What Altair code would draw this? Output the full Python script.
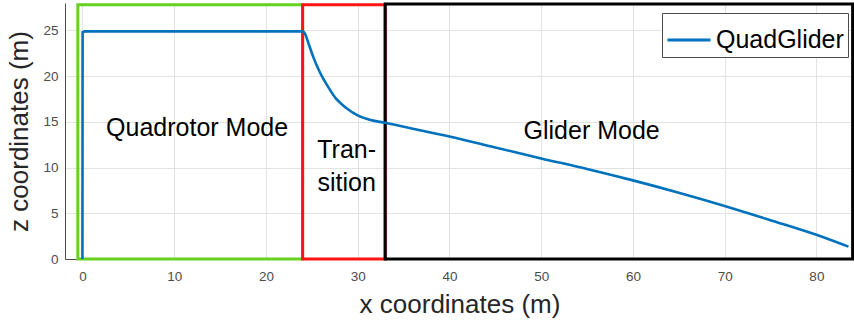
import altair as alt
import pandas as pd

# trajectory (x, z)
traj_x = [0.0, 0.02, 0.3, 5, 10, 15, 20, 24.0, 24.2, 24.7, 25.2, 25.7, 26.2, 26.8, 27.6, 28.3, 28.9, 30.0, 31.4, 33.0,
          36, 40, 45, 50, 55, 60, 65, 70, 75, 80, 83.5]
traj_z = [0.0, 24.8, 24.9, 24.9, 24.9, 24.9, 24.9, 24.9, 24.75, 23.4, 22.0, 20.8, 19.8, 18.8, 17.6, 16.9, 16.4, 15.7, 15.2, 14.9,
          14.25, 13.4, 12.2, 11.0, 9.85, 8.6, 7.25, 5.8, 4.25, 2.65, 1.35]

# mode boxes
box_name = ["quad", "trans", "glide"]
box_x1 = [-0.5, 24.0, 33.0]
box_x2 = [24.0, 33.0, 83.95]
box_y1 = [0.0, 0.0, 0.0]
box_y2 = [27.8, 27.8, 27.9]
box_col = ["#66d11f", "#ff1414", "#000000"]

# region labels
lab_text = ["Quadrotor Mode", "Tran-", "sition", "Glider Mode"]
lab_x = [12.5, 28.8, 28.8, 55.5]
lab_z = [14.3, 11.9, 8.3, 14.0]

FONT = "Liberation Sans"

line_df = pd.DataFrame({"x": traj_x, "z": traj_z, "series": "QuadGlider", "order": range(len(traj_x))})
box_df = pd.DataFrame({"name": box_name, "x": box_x1, "x2": box_x2, "y": box_y1, "y2": box_y2})
lab_df = pd.DataFrame({"t": lab_text, "x": lab_x, "z": lab_z})

xs = alt.Scale(domain=[-1.9, 84.1], nice=False, zero=False)
ys = alt.Scale(domain=[0, 28], nice=False)

xaxis = alt.Axis(values=[0, 10, 20, 30, 40, 50, 60, 70, 80], title="x coordinates (m)",
                 grid=True, ticks=False, labelPadding=10, titlePadding=9)
yaxis = alt.Axis(values=[0, 5, 10, 15, 20, 25], title="z coordinates (m)",
                 grid=True, ticks=False, labelPadding=7, titlePadding=10)

grid_layer = alt.Chart(line_df).mark_line(opacity=0).encode(
    x=alt.X("x:Q", scale=xs, axis=xaxis),
    y=alt.Y("z:Q", scale=ys, axis=yaxis),
)

line = alt.Chart(line_df).mark_line(strokeWidth=2.6, interpolate="monotone").encode(
    x=alt.X("x:Q", scale=xs),
    y=alt.Y("z:Q", scale=ys),
    order="order:Q",
    color=alt.Color("series:N", scale=alt.Scale(domain=["QuadGlider"], range=["#0072BD"]),
                    legend=alt.Legend(title=None, orient="none", legendX=597, legendY=10,
                                      symbolType="stroke", symbolSize=1849, symbolStrokeWidth=3,
                                      labelFontSize=25, labelFont=FONT, labelColor="#000000",
                                      labelOffset=4, padding=4, fillColor="#ffffff",
                                      strokeColor="#4d4d4d", labelLimit=300)),
)

boxes = alt.Chart(box_df).mark_rect(filled=False, strokeWidth=3).encode(
    x=alt.X("x:Q", scale=xs),
    x2="x2:Q",
    y=alt.Y("y:Q", scale=ys),
    y2="y2:Q",
    stroke=alt.Stroke("name:N", scale=alt.Scale(domain=box_name, range=box_col), legend=None),
)

labels = alt.Chart(lab_df).mark_text(font=FONT, fontSize=25, color="#000000").encode(
    x=alt.X("x:Q", scale=xs),
    y=alt.Y("z:Q", scale=ys),
    text="t:N",
)

chart = alt.layer(grid_layer, boxes, line, labels).resolve_scale(
    color="independent", stroke="independent"
).properties(
    width=789, height=256,
    background="#ffffff",
    autosize=alt.AutoSizeParams(type="none"),
    padding={"left": 65, "top": 3, "right": 0, "bottom": 65},
).configure_view(stroke=None).configure_axis(
    labelFont=FONT, labelFontSize=13.5, labelColor="#4d4d4d",
    titleFont=FONT, titleFontSize=26, titleFontWeight="normal", titleColor="#262626",
    gridColor="#e3e3e3", gridWidth=1, domainColor="#4d4d4d", domainWidth=1,
)

chart.save("out.html", embed_options={"renderer": "svg", "actions": False})
